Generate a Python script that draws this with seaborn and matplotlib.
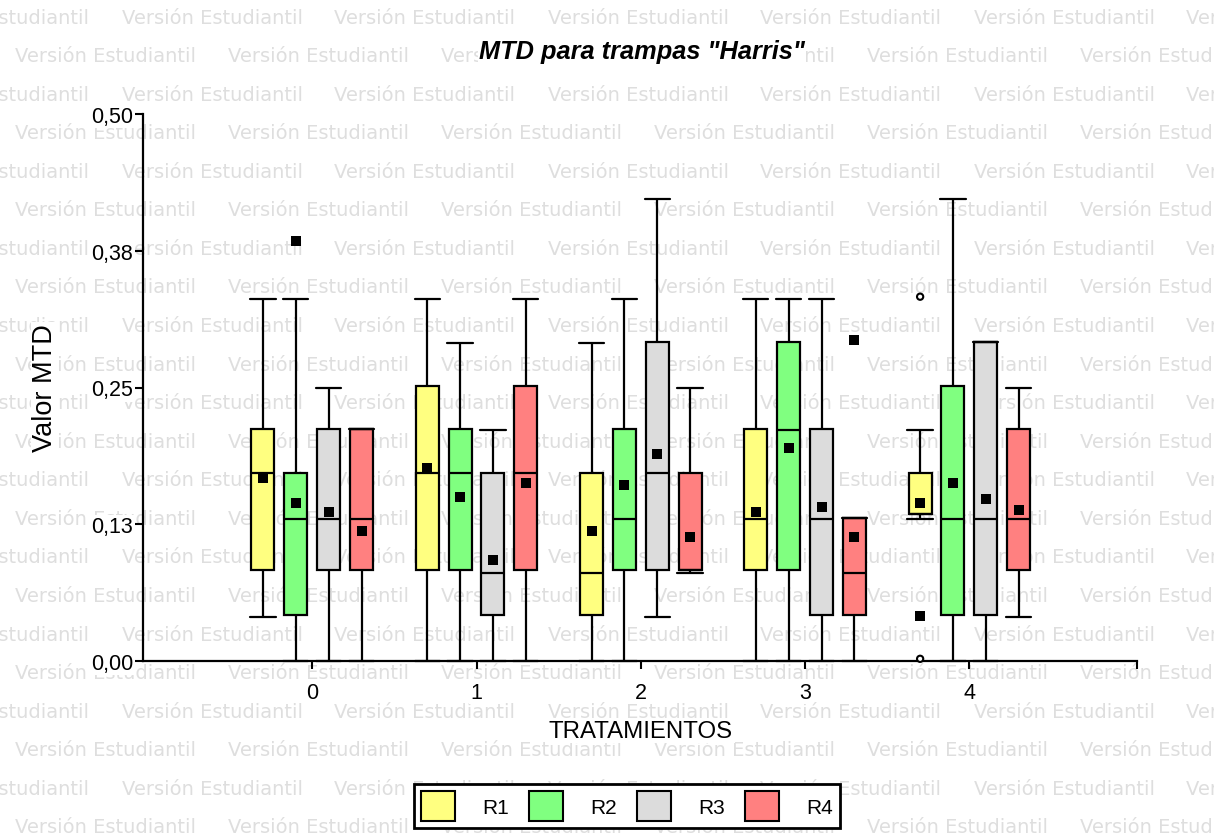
import pandas as pd
import seaborn as sns
import matplotlib.pyplot as plt
from matplotlib.patches import Patch

# --- data (InfoStat box plot) ---
tratamientos = ["0", "1", "2", "3", "4"]
reps = ["R1", "R2", "R3", "R4"]
colores = ["#FFFF80", "#80FF80", "#DCDCDC", "#FF8080"]

# rows = tratamiento 0..4, columns = R1..R4
minimo = [[0.040, 0.000, 0.000, 0.000],
          [0.000, 0.000, 0.000, 0.000],
          [0.000, 0.000, 0.040, 0.080],
          [0.000, 0.000, 0.000, 0.000],
          [0.130, 0.000, 0.000, 0.040]]
q1 = [[0.083, 0.042, 0.083, 0.083],
      [0.083, 0.083, 0.042, 0.083],
      [0.042, 0.083, 0.083, 0.083],
      [0.083, 0.083, 0.042, 0.042],
      [0.134, 0.042, 0.042, 0.083]]
mediana = [[0.172, 0.130, 0.130, 0.130],
           [0.172, 0.172, 0.080, 0.172],
           [0.080, 0.130, 0.172, 0.083],
           [0.130, 0.211, 0.130, 0.080],
           [0.134, 0.130, 0.130, 0.130]]
q3 = [[0.212, 0.172, 0.212, 0.212],
      [0.251, 0.212, 0.172, 0.251],
      [0.172, 0.212, 0.292, 0.172],
      [0.212, 0.292, 0.212, 0.131],
      [0.172, 0.251, 0.292, 0.212]]
maximo = [[0.331, 0.331, 0.250, 0.212],
          [0.331, 0.291, 0.211, 0.331],
          [0.291, 0.331, 0.422, 0.250],
          [0.331, 0.331, 0.331, 0.131],
          [0.211, 0.422, 0.292, 0.250]]
media = [[0.167, 0.144, 0.136, 0.119],
         [0.176, 0.150, 0.092, 0.163],
         [0.119, 0.161, 0.189, 0.113],
         [0.136, 0.195, 0.141, 0.113],
         [0.144, 0.163, 0.148, 0.138]]

# extra filled squares and hollow outliers
extra_trat = ["0", "3", "4"]
extra_rep = ["R2", "R4", "R1"]
extra_val = [0.384, 0.293, 0.041]
out_trat = ["4", "4"]
out_rep = ["R1", "R1"]
out_val = [0.333, 0.002]

ytick_vals = [0.0, 0.125, 0.25, 0.375, 0.5]
ytick_labels = ["0,00", "0,13", "0,25", "0,38", "0,50"]

# five values per box -> quartiles come out exactly as read
rows = []
for i, t in enumerate(tratamientos):
    for j, r in enumerate(reps):
        for v in (minimo[i][j], q1[i][j], mediana[i][j], q3[i][j], maximo[i][j]):
            rows.append({"Tratamiento": t, "Rep": r, "Valor": v})
df_box = pd.DataFrame(rows)
df_media = pd.DataFrame([{"Tratamiento": t, "Rep": r, "Valor": media[i][j]}
                         for i, t in enumerate(tratamientos) for j, r in enumerate(reps)])
df_extra = pd.DataFrame({"Tratamiento": extra_trat, "Rep": extra_rep, "Valor": extra_val})
df_out = pd.DataFrame({"Tratamiento": out_trat, "Rep": out_rep, "Valor": out_val})

sns.set_style("white")
plt.rcParams["font.family"] = ["Liberation Sans", "DejaVu Sans"]
plt.rcParams["text.color"] = "black"
plt.rcParams["xtick.color"] = "black"
plt.rcParams["ytick.color"] = "black"

W, H = 1214, 837
fig = plt.figure(figsize=(W / 100, H / 100), dpi=100)
fig.patch.set_facecolor("white")

# watermark
for k in range(22):
    yy = 1 - (18 + k * 38.57) / H
    x0 = 15 if k % 2 else 15 - 106.5
    for c in range(7):
        fig.text((x0 + c * 213) / W, yy, "Versión Estudiantil", family="DejaVu Sans",
                 fontsize=14, color="#dedede", ha="left", va="center", zorder=-10)

ax = fig.add_axes([143 / W, 1 - 662 / H, (1137 - 143) / W, (662 - 115) / H])
ax.patch.set_alpha(0)

sns.boxplot(data=df_box, x="Tratamiento", y="Valor", hue="Rep",
            order=tratamientos, hue_order=reps, palette=colores, saturation=1,
            width=0.8, gap=0.3, whis=(0, 100), showfliers=False,
            linewidth=1.6, linecolor="black", legend=False, ax=ax)

# caps a bit wider than the boxes
box_w = 0.8 / len(reps) * (1 - 0.3)
for ln in ax.lines:
    xd, yd = ln.get_xdata(), ln.get_ydata()
    if len(xd) == 2 and yd[0] == yd[1] and abs(xd[1] - xd[0]) < 0.9 * box_w:
        cx = (xd[0] + xd[1]) / 2
        ln.set_xdata([cx - 0.55 * box_w, cx + 0.55 * box_w])
        ln.set_clip_on(False)

black = {r: "black" for r in reps}
sns.stripplot(data=df_media, x="Tratamiento", y="Valor", hue="Rep",
              order=tratamientos, hue_order=reps, palette=black,
              dodge=True, jitter=False, marker="s", size=6.5, linewidth=0,
              legend=False, zorder=5, ax=ax)
sns.stripplot(data=df_extra, x="Tratamiento", y="Valor", hue="Rep",
              order=tratamientos, hue_order=reps, palette=black,
              dodge=True, jitter=False, marker="s", size=6.5, linewidth=0,
              legend=False, zorder=5, ax=ax)
n_before = len(ax.collections)
sns.stripplot(data=df_out, x="Tratamiento", y="Valor", hue="Rep",
              order=tratamientos, hue_order=reps, palette={r: "white" for r in reps},
              dodge=True, jitter=False, marker="o", size=4.5, linewidth=1.5,
              edgecolor="black", legend=False, zorder=5, ax=ax)
for coll in ax.collections[n_before:]:
    if len(coll.get_offsets()) > 0:
        coll.set_clip_on(False)

ax.set_xlim(-1.03, 5.02)
ax.set_ylim(0, 0.5)
ax.set_yticks(ytick_vals, ytick_labels)
ax.set_xticks([0, 1, 2, 3, 4, 5.02], tratamientos + [""])
ax.set_xlabel("")
ax.set_ylabel("")
for s in ["top", "right"]:
    ax.spines[s].set_visible(False)
for s in ["left", "bottom"]:
    ax.spines[s].set_linewidth(1.6)
    ax.spines[s].set_color("black")
ax.tick_params(axis="y", direction="out", length=6, width=1.5, pad=1, labelsize=15.5,
               left=True, colors="black")
ax.tick_params(axis="x", direction="out", length=6, width=1.5, pad=9, labelsize=15.5,
               bottom=True, colors="black")
for lab in ax.get_xticklabels() + ax.get_yticklabels():
    lab.set_bbox(dict(facecolor="white", edgecolor="none", pad=1))

wb = dict(facecolor="white", edgecolor="none", pad=1)
fig.text(642 / W, 1 - 52 / H, 'MTD para trampas "Harris"', fontsize=18.3, color="black",
         fontweight="bold", fontstyle="italic", ha="center", va="center", bbox=wb)
fig.text(641 / W, 1 - 732 / H, "TRATAMIENTOS", fontsize=17.3, color="black",
         ha="center", va="center", bbox=wb)
fig.text(45 / W, 1 - 388 / H, "Valor MTD", fontsize=19.5, rotation=90, color="black",
         ha="center", va="center", bbox=wb)

handles = [Patch(facecolor=c, edgecolor="black", linewidth=1.5) for c in colores]
leg = fig.legend(handles, reps, loc="center", bbox_to_anchor=(627 / W, 1 - 807 / H),
                 ncol=4, fontsize=15, frameon=True, fancybox=False, framealpha=1,
                 edgecolor="black", borderpad=0.35, handlelength=1.65, handleheight=1.8,
                 handletextpad=1.3, columnspacing=0.95, labelcolor="black")
leg.get_frame().set_linewidth(2)

fig.savefig("out.png", dpi=100, facecolor="white")
